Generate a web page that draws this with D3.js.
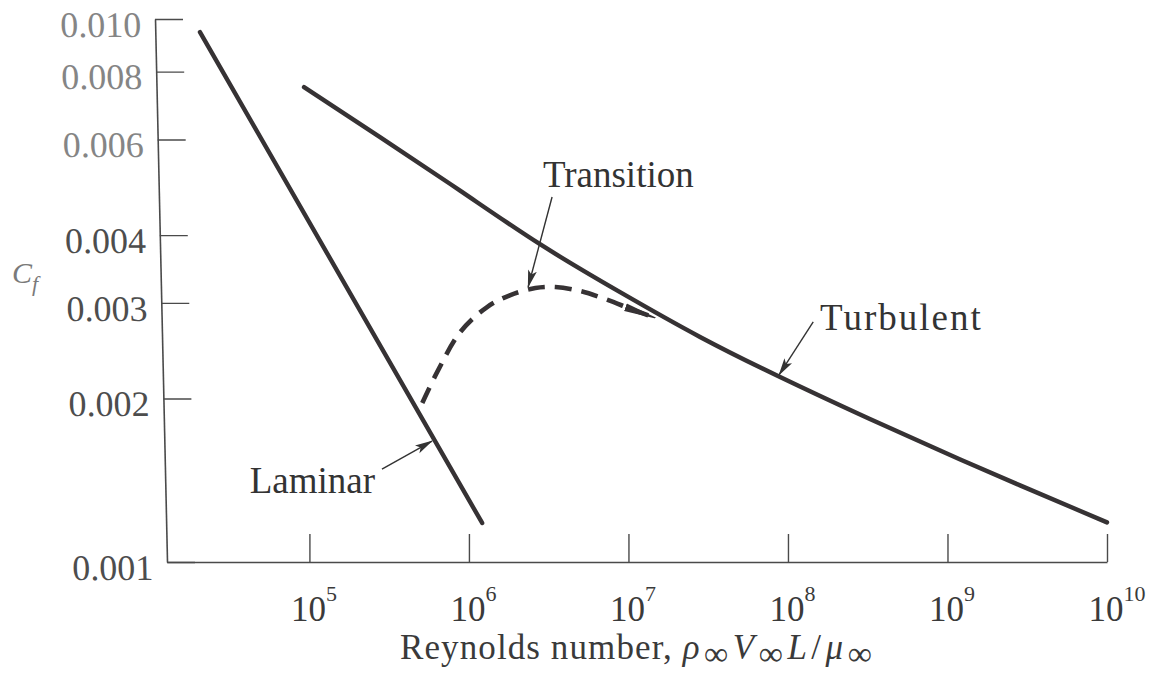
<!DOCTYPE html>
<html>
<head>
<meta charset="utf-8">
<script src="https://cdn.jsdelivr.net/npm/d3@7"></script>
<style>
  html, body { margin: 0; padding: 0; background: #fff; }
  svg { display: block; }
  text { font-family: "Liberation Serif", "Times New Roman", serif; }
</style>
</head>
<body>
<svg id="chart" width="1152" height="675"></svg>
<script>
// Skin-friction coefficient C_f against Reynolds number (log–log axes)

const xTicks = [1e5, 1e6, 1e7, 1e8, 1e9, 1e10];
const xTickExponents = ["5", "6", "7", "8", "9", "10"];
const yTicks = [0.001, 0.002, 0.003, 0.004, 0.006, 0.008, 0.010];
const yTickLabels = ["0.001", "0.002", "0.003", "0.004", "0.006", "0.008", "0.010"];

// Laminar branch
const laminarRe = [2.06e4, 1.21e6];
const laminarCf = [0.00946, 0.00118];

// Turbulent branch
const turbulentRe = [9.25e4, 2.77e5, 8.80e5, 2.79e6, 8.86e6, 2.81e7, 8.92e7, 2.83e8, 8.99e8, 2.85e9, 1.0e10];
const turbulentCf = [0.00749, 0.00606, 0.00483, 0.003848, 0.003140, 0.002597, 0.002191, 0.001869, 0.001604, 0.001384, 0.001183];

// Transition (dashed) branch
const transitionRe = [5.10e5, 6.33e5, 8.83e5, 1.30e6, 1.82e6, 2.61e6, 3.48e6, 5.00e6, 7.17e6, 1.08e7, 1.48e7];
const transitionCf = [0.001963, 0.002239, 0.002652, 0.002948, 0.003102, 0.003196, 0.003209, 0.003155, 0.003049, 0.002910, 0.002814];

// Callouts: label point, arrow tail and arrow tip, all in (Re, Cf)
const callouts = [
  { text: "Laminar",    anchor: "end",   labelRe: 2.58e5, labelCf: 0.00134,  fromRe: 2.85e5, fromCf: 0.001483, toRe: 5.87e5, toCf: 0.00167 },
  { text: "Transition", anchor: "start", labelRe: 2.91e6, labelCf: 0.004905, fromRe: 3.32e6, fromCf: 0.00470,  toRe: 2.35e6, toCf: 0.00321 },
  { text: "Turbulent",  anchor: "start", labelRe: 1.59e8, labelCf: 0.002676, fromRe: 1.44e8, fromCf: 0.002767, toRe: 8.79e7, toCf: 0.00221 }
];

const svg = d3.select("#chart");
const ink = "#363234";

const x = d3.scaleLog().domain([1.28e4, 1e10]).range([167, 1107]);
const y = d3.scaleLog().domain([0.001, 0.010]).range([562, 19]);

// markers
const defs = svg.append("defs");
defs.append("marker")
  .attr("id", "calloutHead")
  .attr("viewBox", "0 -5 18 10")
  .attr("markerUnits", "userSpaceOnUse")
  .attr("markerWidth", 18).attr("markerHeight", 10)
  .attr("refX", 17).attr("refY", 0)
  .attr("orient", "auto")
  .append("path")
  .attr("d", "M0,-4.5L18,0L0,4.5L4,0Z")
  .attr("fill", "#333");
defs.append("marker")
  .attr("id", "transitionHead")
  .attr("viewBox", "0 -5 32 10")
  .attr("markerUnits", "userSpaceOnUse")
  .attr("markerWidth", 32).attr("markerHeight", 10)
  .attr("refX", 32).attr("refY", 0)
  .attr("orient", "auto")
  .append("path")
  .attr("d", "M0,-4L32,-0.5L32,0.5L0,4Z")
  .attr("fill", ink);

// x axis (ticks point up into the plot)
const gx = svg.append("g")
  .attr("transform", `translate(0,${y(0.001)})`)
  .call(d3.axisBottom(x).tickValues(xTicks).tickSizeInner(-28).tickSizeOuter(0).tickFormat(() => ""));
gx.select(".domain").attr("stroke", "#4a4a4a").attr("stroke-width", 1.6);
gx.selectAll(".tick line").attr("stroke", "#4a4a4a").attr("stroke-width", 1.4);
gx.selectAll(".tick text").remove();
gx.selectAll(".tick").append("text")
  .attr("x", -19)
  .attr("y", 59)
  .attr("text-anchor", "start")
  .attr("fill", "#3a3a3a")
  .attr("font-size", 35)
  .attr("font-family", "'Liberation Serif', 'Times New Roman', serif")
  .text("10")
  .append("tspan")
  .attr("dy", -20)
  .attr("font-size", 22)
  .text((d, i) => xTickExponents[i]);

// y axis (slightly leaning, ticks point right into the plot)
const lean = 12 / 543;
const leanDeg = Math.atan(lean) * 180 / Math.PI;
const gy = svg.append("g")
  .attr("transform", `translate(${167 - lean * 562},0) skewX(${leanDeg})`)
  .call(d3.axisLeft(y).tickValues(yTicks).tickSizeInner(-28).tickSizeOuter(0)
    .tickFormat((d, i) => yTickLabels[i]));
gy.select(".domain").attr("stroke", "#4a4a4a").attr("stroke-width", 1.6);
gy.selectAll(".tick line").attr("stroke", "#4a4a4a").attr("stroke-width", 1.4);
gy.selectAll(".tick text")
  .attr("x", -14)
  .attr("dy", "0.48em")
  .attr("font-size", 36)
  .attr("font-family", "'Liberation Serif', 'Times New Roman', serif")
  .attr("fill", d => d >= 0.006 ? "#858585" : "#4d4d4d");

// C_f label
const cf = svg.append("text")
  .attr("x", 12).attr("y", 283)
  .attr("font-size", 30)
  .attr("font-style", "italic")
  .attr("fill", "#7a7a7a");
cf.append("tspan").text("C");
cf.append("tspan").attr("dy", 8).attr("font-size", 22).text("f");

// x-axis title
const title = svg.append("text")
  .attr("x", 400).attr("y", 659)
  .attr("font-size", 35)
  .attr("fill", "#3a3a3a");
title.append("tspan").attr("letter-spacing", 1.1).text("Reynolds number, ");
const mathParts = [
  ["ρ", false], ["∞", true], ["V", false], ["∞", true], ["L", false], ["/", false], ["μ", false], ["∞", true]
];
let sub = false;
mathParts.forEach(([s, isSub]) => {
  const t = title.append("tspan").text(s).attr("letter-spacing", 4.5);
  if (isSub && !sub) { t.attr("dy", 6); sub = true; }
  else if (!isSub && sub) { t.attr("dy", -6); sub = false; }
  if (isSub) t.attr("font-size", 34);
  if (s !== "/" && !isSub) t.attr("font-style", "italic");
});

// curves
const line = d3.line().x(d => x(d[0])).y(d => y(d[1]));
const smooth = d3.line().x(d => x(d[0])).y(d => y(d[1])).curve(d3.curveNatural);

svg.append("path")
  .datum(laminarRe.map((r, i) => [r, laminarCf[i]]))
  .attr("d", line)
  .attr("fill", "none").attr("stroke", ink).attr("stroke-width", 4.4).attr("stroke-linecap", "round");

svg.append("path")
  .datum(turbulentRe.map((r, i) => [r, turbulentCf[i]]))
  .attr("d", smooth)
  .attr("fill", "none").attr("stroke", ink).attr("stroke-width", 4.4).attr("stroke-linecap", "round");

svg.append("path")
  .datum(transitionRe.map((r, i) => [r, transitionCf[i]]))
  .attr("d", d3.line().x(d => x(d[0])).y(d => y(d[1])).curve(d3.curveCatmullRom.alpha(0.5)))
  .attr("fill", "none").attr("stroke", ink).attr("stroke-width", 4.6)
  .attr("stroke-dasharray", "17,10")
  .attr("marker-end", "url(#transitionHead)");

// callouts
const gc = svg.append("g");
callouts.forEach(c => {
  gc.append("line")
    .attr("x1", x(c.fromRe)).attr("y1", y(c.fromCf))
    .attr("x2", x(c.toRe)).attr("y2", y(c.toCf))
    .attr("stroke", "#333").attr("stroke-width", 1.4)
    .attr("marker-end", "url(#calloutHead)");
  gc.append("text")
    .attr("x", x(c.labelRe)).attr("y", y(c.labelCf))
    .attr("text-anchor", c.anchor)
    .attr("font-size", 37)
    .attr("letter-spacing", c.text === "Turbulent" ? 2 : 0)
    .attr("fill", "#333")
    .text(c.text);
});
</script>
</body>
</html>
